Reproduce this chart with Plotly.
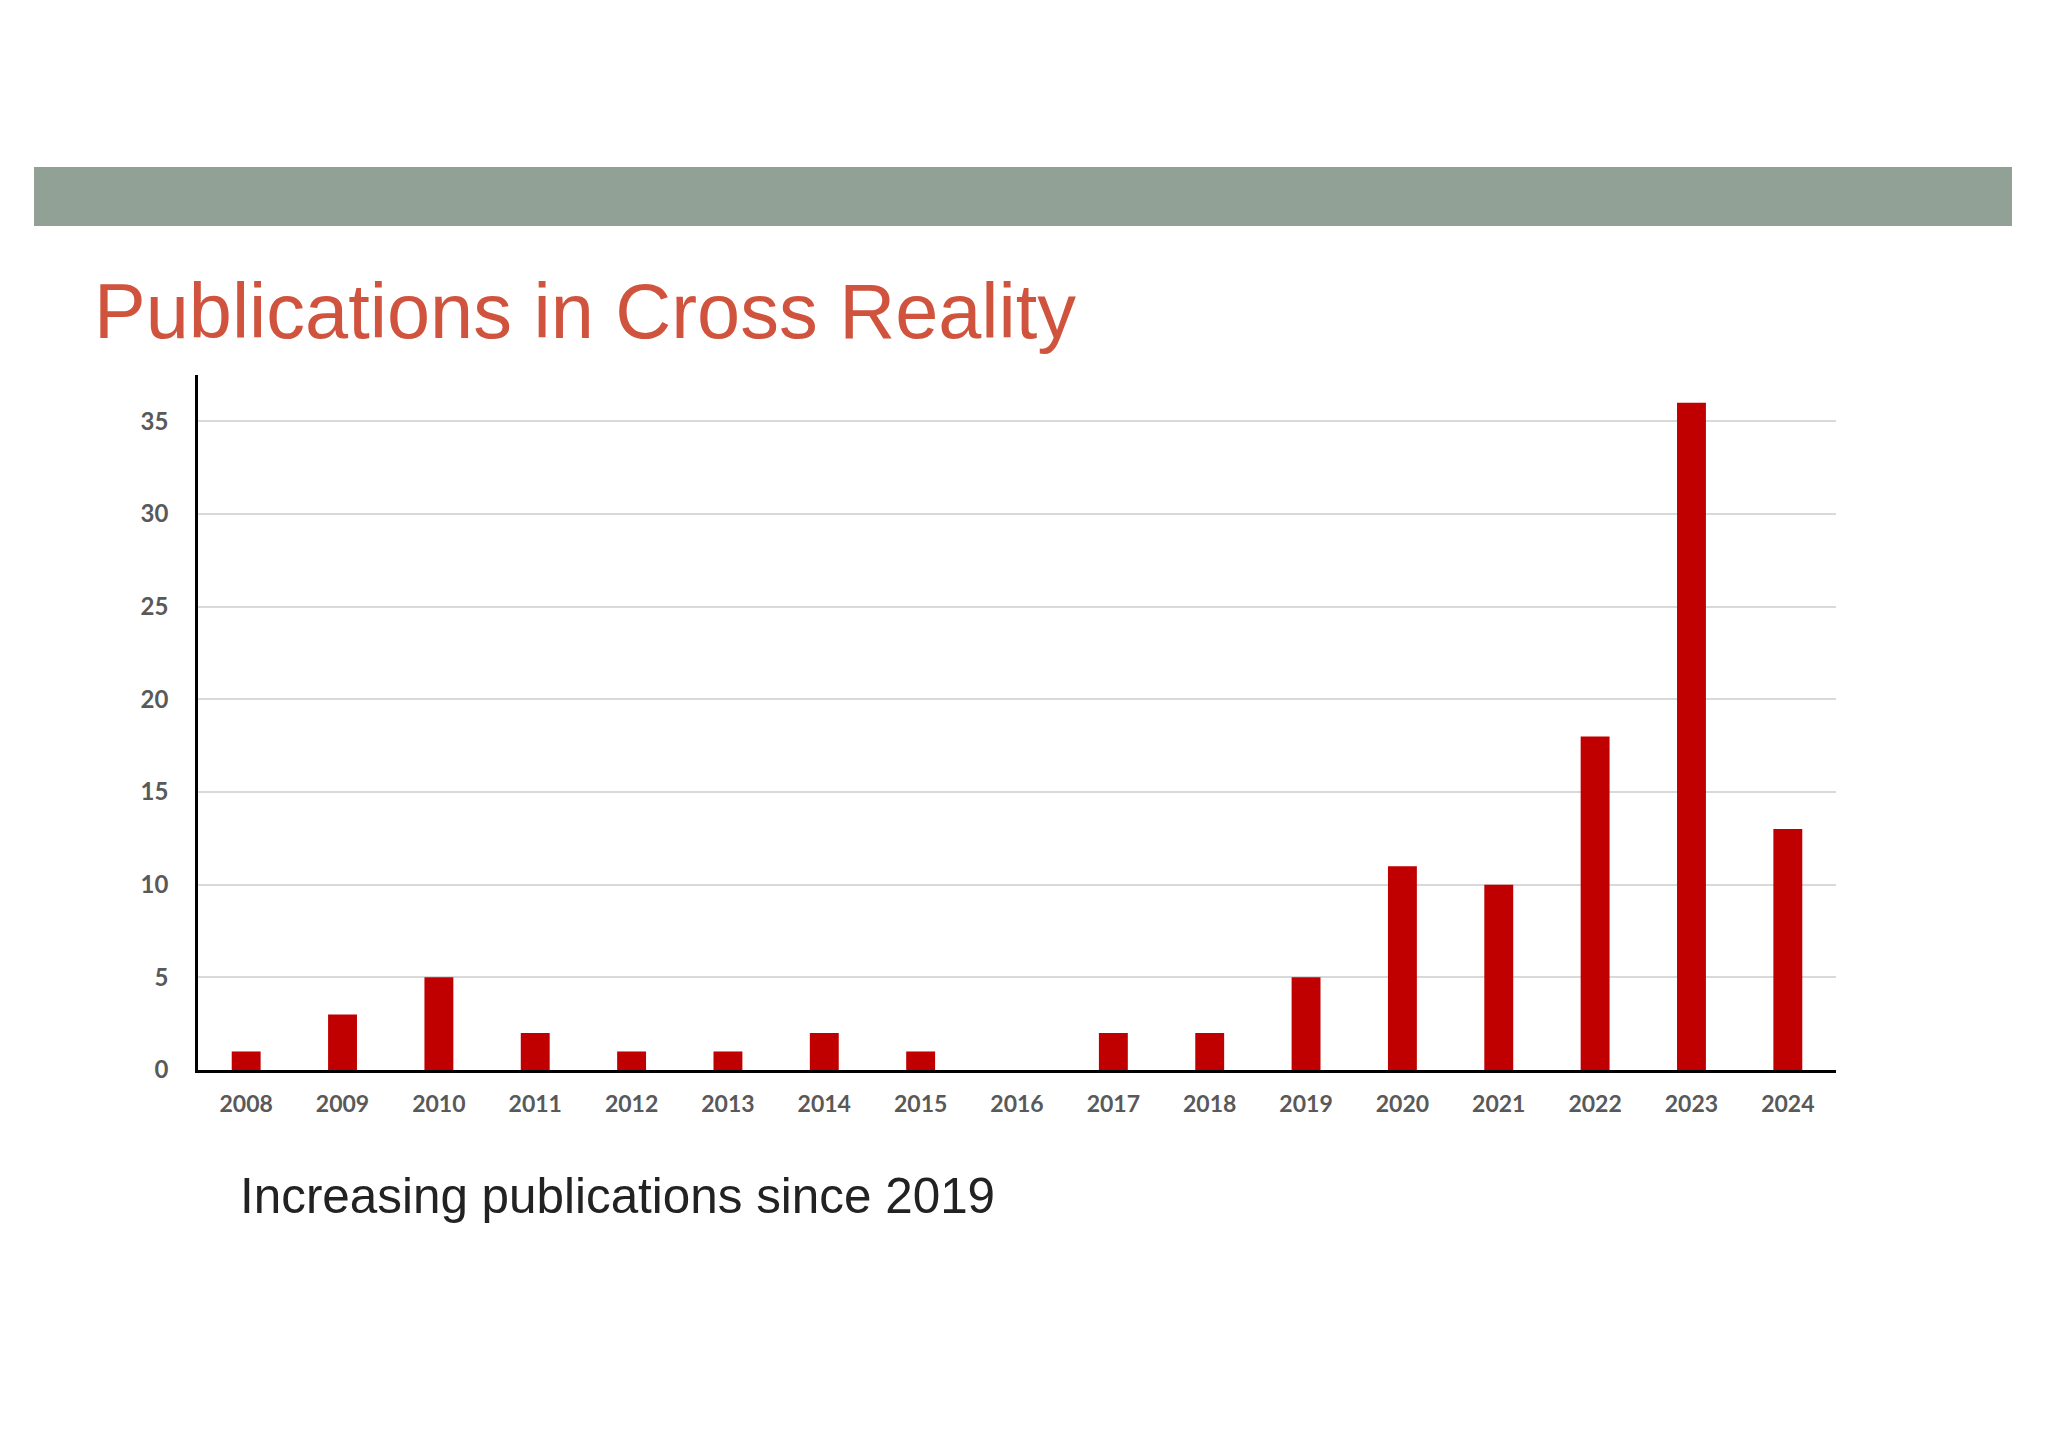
import plotly.graph_objects as go

years = ["2008", "2009", "2010", "2011", "2012", "2013", "2014", "2015", "2016",
         "2017", "2018", "2019", "2020", "2021", "2022", "2023", "2024"]
publications = [1, 3, 5, 2, 1, 1, 2, 1, 0, 2, 2, 5, 11, 10, 18, 36, 13]
y_ticks = [0, 5, 10, 15, 20, 25, 30, 35]

title_text = "Publications in Cross Reality"
subtitle_text = "Increasing publications since 2019"

OFF = 8  # page body margin
W, H = 2048 - OFF, 1448 - OFF
L, R, T, B = 198 - OFF, 1836 - OFF, 375 - OFF, 1070 - OFF  # plot area in pixels


def px_x(x):
    return (x - OFF - L) / (R - L)


def px_y(y):
    return (B - (y - OFF)) / (B - T)


fig = go.Figure(
    go.Bar(
        x=years,
        y=publications,
        marker=dict(color="#C00000", line=dict(width=0)),
    )
)

fig.update_layout(
    width=W,
    height=H,
    margin=dict(l=L, r=W - R, t=T, b=H - B, pad=0),
    paper_bgcolor="white",
    plot_bgcolor="white",
    bargap=0.70,
    showlegend=False,
    xaxis=dict(
        type="category",
        showline=True,
        linecolor="black",
        linewidth=2.5,
        showgrid=False,
        ticks="",
        tickfont=dict(family="Lato", size=23, color="#595959", weight="bold"),
        ticklabelstandoff=12,
    ),
    yaxis=dict(
        range=[0, 37.5],
        tickvals=y_ticks,
        showline=True,
        linecolor="black",
        linewidth=2.5,
        showgrid=True,
        gridcolor="#D9D9D9",
        gridwidth=2,
        zeroline=False,
        ticks="",
        tickfont=dict(family="Lato", size=24, color="#595959", weight="bold"),
        ticklabelstandoff=22,
    ),
    shapes=[
        dict(
            type="rect", xref="paper", yref="paper", layer="below",
            x0=px_x(34), x1=px_x(2012), y0=px_y(167), y1=px_y(226),
            fillcolor="#92A196", line=dict(width=0),
        )
    ],
    annotations=[
        dict(
            text=title_text, xref="paper", yref="paper",
            x=px_x(92), y=px_y(311), xanchor="left", yanchor="middle",
            showarrow=False,
            font=dict(family="Liberation Sans", size=77.5, color="#D0533E"),
        ),
        dict(
            text=subtitle_text, xref="paper", yref="paper",
            x=px_x(238), y=px_y(1195), xanchor="left", yanchor="middle",
            showarrow=False,
            font=dict(family="Liberation Sans", size=49.4, color="#222222"),
        ),
    ],
)

fig.write_html("out.html")
